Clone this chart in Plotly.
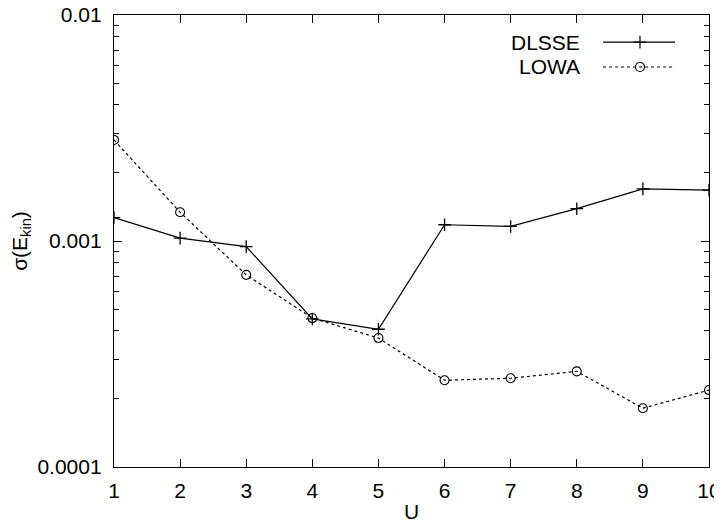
import plotly.graph_objects as go

U = [1, 2, 3, 4, 5, 6, 7, 8, 9, 10]
dlsse = [0.00127, 0.00103, 0.000944, 0.000452, 0.000407, 0.00118, 0.00116, 0.00139, 0.00170, 0.00168]
lowa = [0.00280, 0.00134, 0.000708, 0.000456, 0.000372, 0.000242, 0.000247, 0.000265, 0.000182, 0.000219]
series_names = ["DLSSE", "LOWA"]
y_tickvals = [0.0001, 0.001, 0.01]
y_ticktext = ["0.0001", "0.001", "0.01"]

FONT = "Liberation Sans, Arial, sans-serif"
FS = 21

fig = go.Figure()
fig.add_trace(go.Scatter(
    x=U, y=dlsse, mode="lines+markers", name=series_names[0],
    line=dict(color="black", width=1.2, dash="solid"),
    marker=dict(symbol="cross-thin-open", size=9, line=dict(color="black", width=1.3)),
    showlegend=False))
fig.add_trace(go.Scatter(
    x=U, y=lowa, mode="lines+markers", name=series_names[1],
    line=dict(color="black", width=1.2, dash="dot"),
    marker=dict(symbol="circle-open", size=9, color="black", line=dict(color="black", width=1.1)),
    showlegend=False))

# manual gnuplot-style key (text on left, sample on right)
key_rows = [0.940, 0.885]
key_x0, key_x1, key_xm, key_text_x = 0.822, 0.943, 0.884, 0.787
for name, yk, dash, sym in zip(series_names, key_rows, ["solid", "dot"], ["cross-thin-open", "circle-open"]):
    fig.add_trace(go.Scatter(
        x=[key_x0, key_xm, key_x1], y=[yk, yk, yk], xaxis="x2", yaxis="y2",
        mode="lines", line=dict(color="black", width=1.2, dash=dash),
        showlegend=False, hoverinfo="skip"))
    fig.add_trace(go.Scatter(
        x=[key_xm], y=[yk], xaxis="x2", yaxis="y2", mode="markers",
        marker=dict(symbol=sym, size=9, color="black", line=dict(color="black", width=1.2)),
        showlegend=False, hoverinfo="skip"))
    fig.add_annotation(x=key_text_x, y=yk, xref="paper", yref="paper", text=name,
                       showarrow=False, xanchor="right", yanchor="middle",
                       font=dict(family=FONT, size=FS, color="black"))

axis_common = dict(showline=True, linecolor="black", linewidth=1.3, mirror="ticks",
                   ticks="inside", tickcolor="black", ticklen=8, tickwidth=1,
                   showgrid=False, zeroline=False, automargin=False,
                   ticklabeloverflow="allow",
                   tickfont=dict(family=FONT, size=FS, color="black"))

# the page body has an 8px margin, so the figure is offset by 8px
fig.update_layout(
    width=714, height=520,
    margin=dict(l=106, r=13, t=7, b=61),
    paper_bgcolor="white", plot_bgcolor="white",
    xaxis=dict(range=[1, 10], tickvals=U, ticklabelstandoff=5,
               title=dict(text="U", standoff=2, font=dict(family=FONT, size=FS, color="black")),
               **axis_common),
    yaxis=dict(type="log", range=[-4, -2], tickvals=y_tickvals, ticktext=y_ticktext,
               ticklabelstandoff=7,
               title=dict(text="σ(E<sub>kin</sub>)", font=dict(family=FONT, size=FS, color="black")),
               minor=dict(ticks="inside", ticklen=5, tickcolor="black", tickwidth=1, dtick="D1"),
               **axis_common),
    xaxis2=dict(range=[0, 1], overlaying="x", visible=False, fixedrange=True),
    yaxis2=dict(range=[0, 1], overlaying="y", visible=False, fixedrange=True),
)

fig.write_html("out.html")
